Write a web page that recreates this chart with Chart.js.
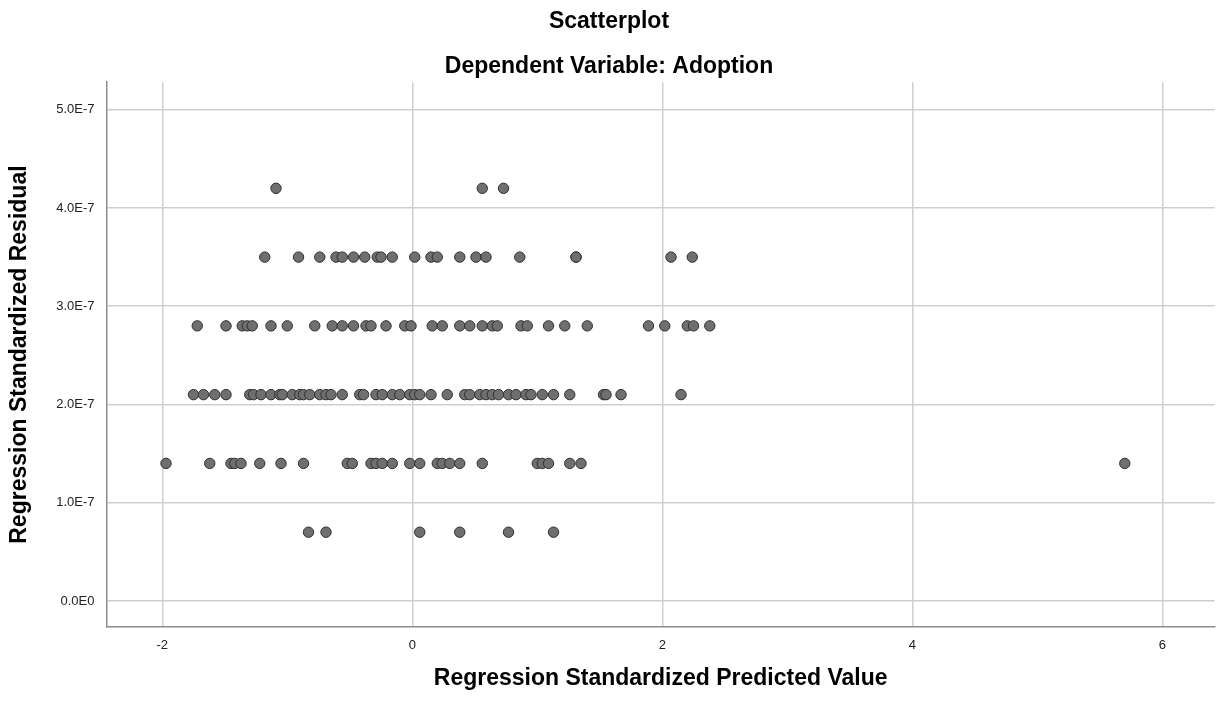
<!DOCTYPE html>
<html>
<head>
<meta charset="utf-8">
<script src="https://cdn.jsdelivr.net/npm/chart.js@4/dist/chart.umd.min.js"></script>
<style>
  html, body { margin: 0; padding: 0; background: #fff; }
</style>
</head>
<body>
<canvas id="scatter" width="1221" height="703"></canvas>
<script>
// residual levels (the dependent var only takes a few values, so residuals sit in bands)
const residualLevels = [0.7e-7, 1.4e-7, 2.1e-7, 2.8e-7, 3.5e-7, 4.2e-7];

// standardized predicted values
const predAt07 = [-0.83, -0.69, 0.06, 0.38, 0.77, 1.13];
const predAt14 = [-1.97, -1.62, -1.45, -1.42, -1.37, -1.22, -1.05, -0.87, -0.52, -0.48, -0.33, -0.29,
  -0.24, -0.16, -0.02, 0.06, 0.20, 0.24, 0.30, 0.38, 0.56, 1.00, 1.04, 1.09, 1.26, 1.35, 5.70];
const predAt21 = [-1.75, -1.67, -1.58, -1.49, -1.30, -1.27, -1.21, -1.13, -1.06, -1.04, -0.96, -0.90,
  -0.87, -0.82, -0.74, -0.69, -0.65, -0.56, -0.42, -0.39, -0.29, -0.24, -0.16, -0.10, -0.02, 0.02,
  0.06, 0.15, 0.28, 0.42, 0.46, 0.54, 0.59, 0.64, 0.69, 0.77, 0.83, 0.91, 0.95, 1.04, 1.13, 1.26,
  1.53, 1.55, 1.67, 2.15];
const predAt28 = [-1.72, -1.49, -1.36, -1.32, -1.28, -1.13, -1.00, -0.78, -0.64, -0.56, -0.47, -0.37,
  -0.33, -0.21, -0.06, -0.01, 0.16, 0.24, 0.38, 0.46, 0.56, 0.64, 0.68, 0.87, 0.92, 1.09, 1.22, 1.40,
  1.89, 2.02, 2.20, 2.25, 2.38];
const predAt35 = [-1.18, -0.91, -0.74, -0.61, -0.56, -0.47, -0.38, -0.28, -0.25, -0.16, 0.02, 0.15,
  0.20, 0.38, 0.51, 0.59, 0.86, 1.31, 1.31, 2.07, 2.24];
const predAt42 = [-1.09, 0.56, 0.73];

const xTicks = [-2, 0, 2, 4, 6];
const yTicks = [0, 1e-7, 2e-7, 3e-7, 4e-7, 5e-7];
const yTickLabels = ['0.0E0', '1.0E-7', '2.0E-7', '3.0E-7', '4.0E-7', '5.0E-7'];

const bands = [predAt07, predAt14, predAt21, predAt28, predAt35, predAt42];
const points = [];
bands.forEach((xs, i) => {
  xs.forEach(x => points.push({ x: x, y: residualLevels[i] }));
});

const FONT = "'Liberation Sans', Arial, sans-serif";

new Chart(document.getElementById('scatter'), {
  type: 'scatter',
  data: {
    datasets: [{
      data: points,
      pointRadius: 5.2,
      pointHoverRadius: 5.2,
      pointBackgroundColor: '#6f6f6f',
      pointBorderColor: '#2e2e2e',
      pointBorderWidth: 1
    }]
  },
  options: {
    responsive: false,
    devicePixelRatio: 1,
    animation: false,
    layout: { padding: { left: 0, right: 3, top: 0, bottom: 0 } },
    plugins: {
      legend: { display: false },
      tooltip: { enabled: false },
      title: {
        display: true,
        text: 'Scatterplot',
        color: '#000',
        font: { family: FONT, size: 23, weight: 'bold' },
        padding: { top: 8, bottom: 0 }
      },
      subtitle: {
        display: true,
        text: 'Dependent Variable: Adoption',
        color: '#000',
        font: { family: FONT, size: 23, weight: 'bold' },
        padding: { top: 17, bottom: 2 }
      }
    },
    scales: {
      x: {
        type: 'linear',
        min: -2.446,
        max: 6.42,
        afterBuildTicks: s => { s.ticks = xTicks.map(v => ({ value: v })); },
        afterFit: s => { s.height = 76; },
        ticks: {
          color: '#222',
          font: { family: FONT, size: 13 },
          padding: 11,
          maxRotation: 0
        },
        grid: { color: '#cfcfcf', lineWidth: 1.5, drawTicks: false },
        border: { color: '#8c8c8c', width: 1.5 },
        title: {
          display: true,
          text: 'Regression Standardized Predicted Value',
          color: '#000',
          font: { family: FONT, size: 23, weight: 'bold' },
          padding: { top: 0, bottom: 11 }
        }
      },
      y: {
        type: 'linear',
        min: -0.265e-7,
        max: 5.28e-7,
        afterBuildTicks: s => { s.ticks = yTicks.map(v => ({ value: v })); },
        afterFit: s => { s.width = 106.5; },
        ticks: {
          color: '#222',
          font: { family: FONT, size: 13 },
          padding: 12,
          callback: (v, i) => yTickLabels[i]
        },
        grid: { color: '#cfcfcf', lineWidth: 1.5, drawTicks: false },
        border: { color: '#8c8c8c', width: 1.5 },
        title: {
          display: true,
          text: 'Regression Standardized Residual',
          color: '#000',
          font: { family: FONT, size: 23, weight: 'bold' },
          padding: { top: 6, bottom: 0 }
        }
      }
    }
  }
});
</script>
</body>
</html>
